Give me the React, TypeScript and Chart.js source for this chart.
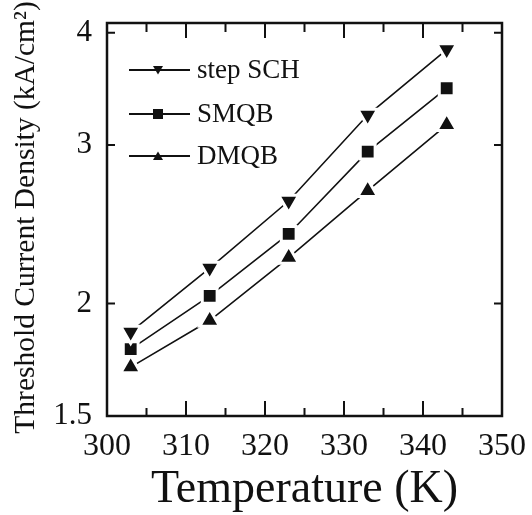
import React, { useEffect, useRef } from 'react';
import { Chart, registerables } from 'chart.js';

Chart.register(...registerables);

// ---- data ----
const temperatures = [303, 313, 323, 333, 343];
const stepSCH = [1.86, 2.19, 2.6, 3.24, 3.83];
const smqb = [1.78, 2.04, 2.39, 2.95, 3.47];
const dmqb = [1.7, 1.915, 2.25, 2.67, 3.16];
const seriesLabels = ['step SCH', 'SMQB', 'DMQB'];
const yTickValues = [1.5, 2, 3, 4];
const xMajorTicks = [300, 310, 320, 330, 340, 350];
const xMinorTicks = [305, 315, 325, 335, 345];
const xTitle = 'Temperature (K)';
const yTitle = 'Threshold Current Density (kA/cm\u00B2)';

const FONT = '"Liberation Serif", "Times New Roman", serif';
const INK = '#111';

type MarkerKind = 'down' | 'square' | 'up';
const markerKinds: MarkerKind[] = ['down', 'square', 'up'];

function drawMarker(ctx: CanvasRenderingContext2D, kind: MarkerKind, x: number, y: number, s: number) {
  ctx.beginPath();
  if (kind === 'square') {
    ctx.rect(x - s / 2, y - s / 2, s, s);
  } else if (kind === 'down') {
    ctx.moveTo(x - s / 2, y - s * 0.4);
    ctx.lineTo(x + s / 2, y - s * 0.4);
    ctx.lineTo(x, y + s * 0.45);
    ctx.closePath();
  } else {
    ctx.moveTo(x - s / 2, y + s * 0.4);
    ctx.lineTo(x + s / 2, y + s * 0.4);
    ctx.lineTo(x, y - s * 0.45);
    ctx.closePath();
  }
  ctx.fill();
}

const framePlugin = {
  id: 'frameAndLegend',
  afterDraw(chart: any) {
    const { ctx, chartArea } = chart;
    const { left, right, top, bottom } = chartArea;
    const xs = chart.scales.x;
    const ys = chart.scales.y;
    ctx.save();
    ctx.strokeStyle = INK;
    ctx.fillStyle = INK;
    // frame
    ctx.lineWidth = 2.5;
    ctx.strokeRect(left, top, right - left, bottom - top);
    // ticks
    ctx.lineWidth = 2;
    ctx.beginPath();
    xMajorTicks.forEach((v) => {
      const px = xs.getPixelForValue(v);
      ctx.moveTo(px, bottom);
      ctx.lineTo(px, bottom - 15);
      ctx.moveTo(px, top);
      ctx.lineTo(px, top + 15);
    });
    xMinorTicks.forEach((v) => {
      const px = xs.getPixelForValue(v);
      ctx.moveTo(px, bottom);
      ctx.lineTo(px, bottom - 8);
      ctx.moveTo(px, top);
      ctx.lineTo(px, top + 9);
    });
    yTickValues.forEach((v) => {
      const py = ys.getPixelForValue(v);
      ctx.moveTo(left, py);
      ctx.lineTo(left + 8, py);
      ctx.moveTo(right, py);
      ctx.lineTo(right - 8, py);
    });
    ctx.stroke();

    // legend
    const rowY = [top + 47, top + 91, top + 133];
    ctx.font = `27px ${FONT}`;
    ctx.textAlign = 'left';
    ctx.textBaseline = 'middle';
    seriesLabels.forEach((label, i) => {
      const y = rowY[i];
      ctx.lineWidth = 2.2;
      ctx.beginPath();
      ctx.moveTo(left + 22, y);
      ctx.lineTo(left + 83, y);
      ctx.stroke();
      drawMarker(ctx, markerKinds[i], left + 51, y, 10);
      ctx.fillText(label, left + 90, y + 1);
    });

    // y title (drawn rotated, without width squeezing)
    ctx.translate(26, (top + bottom) / 2 - 2);
    ctx.rotate(-Math.PI / 2);
    ctx.font = `29.5px ${FONT}`;
    ctx.textAlign = 'center';
    ctx.textBaseline = 'middle';
    ctx.fillText(yTitle, 0, 0);
    ctx.restore();
  },
};

export default function App() {
  const ref = useRef<HTMLCanvasElement>(null);

  useEffect(() => {
    const canvas = ref.current;
    if (!canvas) return;
    const mk = (vals: number[]) => temperatures.map((t, i) => ({ x: t, y: vals[i] }));
    const common = {
      borderColor: INK,
      backgroundColor: INK,
      borderWidth: 1.6,
      pointBackgroundColor: INK,
      pointBorderColor: '#ffffff',
      pointBorderWidth: 3,
      fill: false,
      tension: 0,
    };
    const chart = new Chart(canvas, {
      type: 'line',
      data: {
        datasets: [
          { ...common, label: seriesLabels[0], data: mk(stepSCH), pointStyle: 'triangle', rotation: 180, pointRadius: 11.5 },
          { ...common, label: seriesLabels[1], data: mk(smqb), pointStyle: 'rect', pointRadius: 10.5 },
          { ...common, label: seriesLabels[2], data: mk(dmqb), pointStyle: 'triangle', pointRadius: 11.5 },
        ],
      },
      options: {
        responsive: false,
        animation: false,
        layout: { padding: { top: 23, right: 30, left: 0, bottom: 0 } },
        plugins: { legend: { display: false }, tooltip: { enabled: false } },
        scales: {
          x: {
            type: 'linear',
            min: 300,
            max: 350,
            afterBuildTicks: (s: any) => {
              s.ticks = xMajorTicks.map((v) => ({ value: v }));
            },
            ticks: {
              font: { family: FONT, size: 32 },
              color: INK,
              padding: 11,
              maxRotation: 0,
              autoSkip: false,
            },
            grid: { display: false, drawTicks: false },
            border: { display: false },
            title: {
              display: true,
              text: xTitle,
              font: { family: FONT, size: 46, lineHeight: 1 },
              color: INK,
              padding: { top: 0, bottom: 2 },
            },
            afterFit: (s: any) => {
              s.height = 99;
              s.paddingLeft = 0;
              s.paddingRight = 0;
            },
          },
          y: {
            type: 'logarithmic',
            min: 1.5,
            max: 4.1,
            afterBuildTicks: (s: any) => {
              s.ticks = yTickValues.map((v) => ({ value: v }));
            },
            ticks: {
              callback: (v: any) => String(v),
              font: { family: FONT, size: 31 },
              color: INK,
              padding: 15,
              autoSkip: false,
            },
            grid: { display: false, drawTicks: false },
            border: { display: false },
            afterFit: (s: any) => {
              s.width = 107;
              s.paddingTop = 0;
              s.paddingBottom = 0;
            },
          },
        },
      } as any,
      plugins: [framePlugin],
    });
    return () => chart.destroy();
  }, []);

  return (
    <div style={{ position: 'absolute', left: 0, top: 0, width: 532, height: 515, background: '#fff' }}>
      <canvas ref={ref} width={532} height={515} style={{ display: 'block' }} />
    </div>
  );
}
